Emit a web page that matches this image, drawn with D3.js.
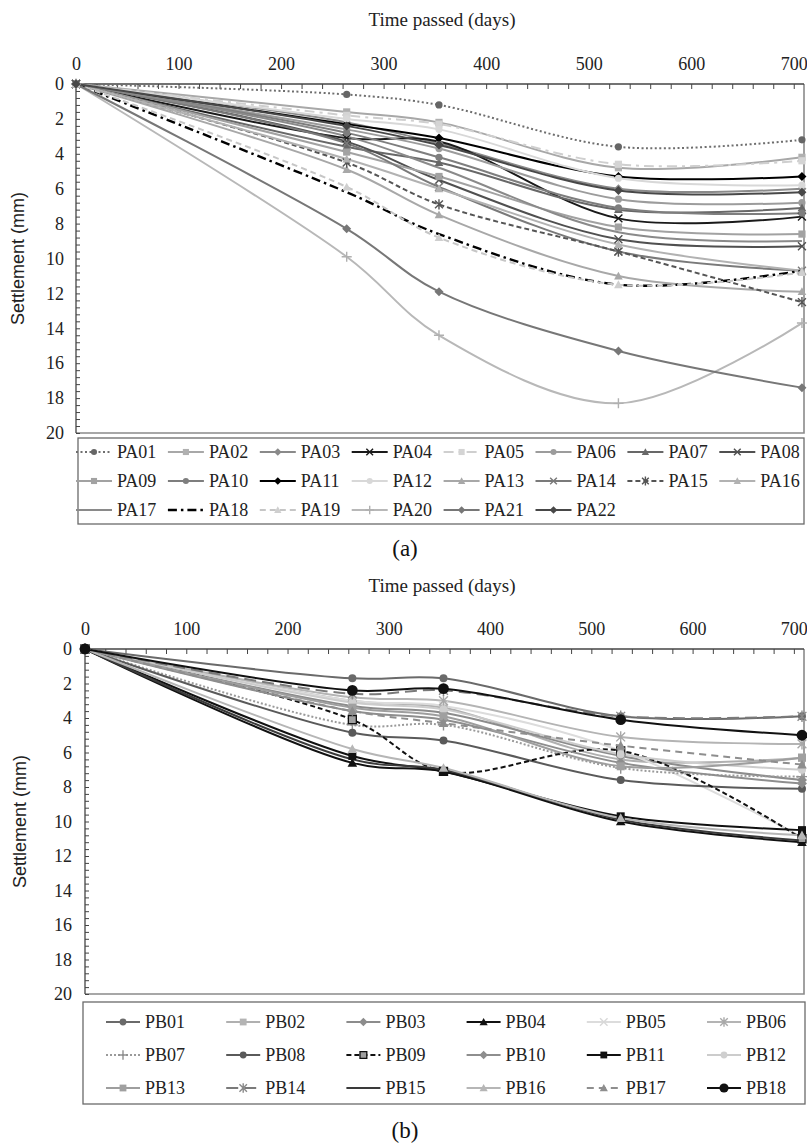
<!DOCTYPE html>
<html><head><meta charset="utf-8">
<script src="https://cdn.jsdelivr.net/npm/d3@7"></script>
<style>
html,body{margin:0;padding:0;background:#fff;}
svg{display:block;}
</style></head>
<body>
<svg id="chart" width="807" height="1147"></svg>
<script>
// ---------- DATA ----------
const days = [0, 264, 354, 529, 708];
const xTickLabels = [0, 100, 200, 300, 400, 500, 600, 700];
const yTickLabels = [0, 2, 4, 6, 8, 10, 12, 14, 16, 18, 20];

const paNames = ["PA01","PA02","PA03","PA04","PA05","PA06","PA07","PA08","PA09","PA10","PA11",
                 "PA12","PA13","PA14","PA15","PA16","PA17","PA18","PA19","PA20","PA21","PA22"];
const paValues = [
  [0, 0.6, 1.2, 3.6, 3.2],
  [0, 1.6, 2.2, 4.8, 4.2],
  [0, 2.2, 3.4, 6.0, 6.0],
  [0, 3.1, 3.3, 7.7, 7.6],
  [0, 1.8, 2.3, 4.6, 4.4],
  [0, 2.6, 3.7, 6.6, 6.8],
  [0, 3.6, 4.5, 7.2, 7.1],
  [0, 3.3, 5.5, 8.9, 9.3],
  [0, 3.9, 5.3, 8.2, 8.6],
  [0, 2.8, 4.2, 7.1, 7.4],
  [0, 2.3, 3.1, 5.3, 5.3],
  [0, 2.0, 2.6, 5.4, 5.8],
  [0, 4.9, 7.5, 11.0, 11.9],
  [0, 3.4, 5.9, 9.6, 10.7],
  [0, 4.5, 6.9, 9.6, 12.5],
  [0, 4.3, 6.0, 9.2, 10.7],
  [0, 3.0, 4.8, 8.5, 9.0],
  [0, 6.2, 8.6, 11.5, 10.7],
  [0, 5.9, 8.8, 11.5, 10.8],
  [0, 9.9, 14.4, 18.3, 13.7],
  [0, 8.3, 11.9, 15.3, 17.4],
  [0, 2.4, 3.5, 6.1, 6.2]
];

const pbNames = ["PB01","PB02","PB03","PB04","PB05","PB06","PB07","PB08","PB09",
                 "PB10","PB11","PB12","PB13","PB14","PB15","PB16","PB17","PB18"];
const pbValues = [
  [0, 1.7, 1.7, 3.9, 3.9],
  [0, 3.0, 3.4, 6.4, 6.3],
  [0, 3.3, 3.7, 6.2, 7.6],
  [0, 6.6, 7.1, 10.0, 11.2],
  [0, 3.0, 3.3, 5.9, 10.9],
  [0, 2.8, 3.0, 5.1, 5.5],
  [0, 4.4, 4.4, 6.9, 7.4],
  [0, 4.85, 5.3, 7.6, 8.1],
  [0, 4.1, 7.1, 5.9, 11.0],
  [0, 3.6, 4.1, 6.6, 7.8],
  [0, 6.2, 7.1, 9.7, 10.5],
  [0, 3.1, 3.5, 6.1, 7.0],
  [0, 3.4, 3.9, 6.8, 6.3],
  [0, 2.6, 2.4, 3.9, 3.9],
  [0, 6.4, 7.0, 9.9, 11.1],
  [0, 5.8, 6.9, 9.8, 10.8],
  [0, 3.6, 4.3, 5.6, 6.7],
  [0, 2.4, 2.3, 4.1, 5.0]
];

// ---------- STYLES ----------
const paStyles = [
  {c:"#6e6e6e", d:"2,2.5", m:"circle", mc:"#666"},
  {c:"#a8a8a8", d:null, m:"square", mc:"#b0b0b0"},
  {c:"#8a8a8a", d:null, m:"diamond", mc:"#8a8a8a"},
  {c:"#1a1a1a", d:null, m:"x", mc:"#1a1a1a"},
  {c:"#cfcfcf", d:"10,5,3,5", m:"square", mc:"#d4d4d4"},
  {c:"#9c9c9c", d:null, m:"circle", mc:"#9c9c9c"},
  {c:"#686868", d:null, m:"triangle", mc:"#686868"},
  {c:"#505050", d:null, m:"x", mc:"#505050"},
  {c:"#a2a2a2", d:null, m:"square", mc:"#a2a2a2"},
  {c:"#7e7e7e", d:null, m:"circle", mc:"#7e7e7e"},
  {c:"#000000", d:null, m:"diamond", mc:"#000"},
  {c:"#d8d8d8", d:null, m:"circle", mc:"#d8d8d8"},
  {c:"#a8a8a8", d:null, m:"triangle", mc:"#a8a8a8"},
  {c:"#7a7a7a", d:null, m:"x", mc:"#7a7a7a"},
  {c:"#555555", d:"5,3", m:"star", mc:"#555"},
  {c:"#b2b2b2", d:null, m:"triangle", mc:"#b2b2b2"},
  {c:"#8a8a8a", d:null, m:null, mc:null},
  {c:"#000000", d:"9,4,2.5,4", m:null, mc:null, w:2.4},
  {c:"#c6c6c6", d:"6,4", m:"triangle", mc:"#cfcfcf"},
  {c:"#b8b8b8", d:null, m:"plus", mc:"#b0b0b0"},
  {c:"#777777", d:null, m:"diamond", mc:"#777"},
  {c:"#484848", d:null, m:"diamond", mc:"#484848"}
];

const pbStyles = [
  {c:"#6a6a6a", d:null, m:"circle", mc:"#6a6a6a"},
  {c:"#b0b0b0", d:null, m:"square", mc:"#b4b4b4"},
  {c:"#8c8c8c", d:null, m:"diamond", mc:"#8c8c8c"},
  {c:"#111111", d:null, m:"triangle", mc:"#111"},
  {c:"#dcdcdc", d:null, m:"x", mc:"#d8d8d8"},
  {c:"#b4b4b4", d:null, m:"star", mc:"#a8a8a8"},
  {c:"#9a9a9a", d:"2,2", m:"plus", mc:"#909090"},
  {c:"#5a5a5a", d:null, m:"circle", mc:"#5a5a5a"},
  {c:"#111111", d:"5,3", m:"squareOutline", mc:"#a0a0a0"},
  {c:"#8e8e8e", d:null, m:"diamond", mc:"#8e8e8e"},
  {c:"#111111", d:null, m:"square", mc:"#111"},
  {c:"#cccccc", d:null, m:"circle", mc:"#cfcfcf"},
  {c:"#9e9e9e", d:null, m:"square", mc:"#a0a0a0"},
  {c:"#7a7a7a", d:"12,6", m:"star", mc:"#8a8a8a"},
  {c:"#3a3a3a", d:null, m:null, mc:null},
  {c:"#b6b6b6", d:null, m:"triangle", mc:"#b6b6b6"},
  {c:"#8e8e8e", d:"7,5", m:"triangle", mc:"#8e8e8e"},
  {c:"#111111", d:null, m:"circle", mc:"#111", ms:1.35}
];

// ---------- HELPERS ----------
function markerPath(type, s) {
  switch (type) {
    case "circle": return d3.symbol(d3.symbolCircle, Math.PI*s*s)();
    case "square": case "squareOutline": return `M${-s},${-s}H${s}V${s}H${-s}Z`;
    case "diamond": { const t = s*1.25; return `M0,${-t}L${t},0L0,${t}L${-t},0Z`; }
    case "triangle": { const t = s*1.2; return `M0,${-t}L${t},${t*0.8}L${-t},${t*0.8}Z`; }
    case "x": { const t = s*1.1; return `M${-t},${-t}L${t},${t}M${-t},${t}L${t},${-t}`; }
    case "plus": { const t = s*1.4; return `M${-t},0H${t}M0,${-t}V${t}`; }
    case "star": { const t = s*1.1; return `M${-t},${-t}L${t},${t}M${-t},${t}L${t},${-t}M0,${-t*1.3}V${t*1.3}`; }
  }
  return "";
}
function drawMarker(g, st, x, y, s) {
  if (!st.m) return;
  const size = s * (st.ms || 1);
  const p = g.append("path").attr("d", markerPath(st.m, size))
    .attr("transform", `translate(${x},${y})`);
  if (st.m === "x" || st.m === "plus" || st.m === "star") {
    p.attr("fill", "none").attr("stroke", st.mc).attr("stroke-width", 1.4);
  } else if (st.m === "squareOutline") {
    p.attr("fill", st.mc).attr("stroke", "#111").attr("stroke-width", 1.3);
  } else {
    p.attr("fill", st.mc).attr("stroke", "none");
  }
}

const svg = d3.select("#chart");
const serif = "'Liberation Serif','Times New Roman',serif";
const sans = "'Liberation Sans',Arial,sans-serif";

function drawPanel(cfg) {
  const g = svg.append("g");
  const x = d3.scaleLinear().domain([0, 710]).range([cfg.left, cfg.right]);
  const y = d3.scaleLinear().domain([0, 20]).range([cfg.top, cfg.bottom]);

  g.append("text").attr("x", cfg.titleX).attr("y", cfg.titleY)
    .attr("text-anchor", "middle").attr("font-family", serif).attr("font-size", 19)
    .attr("fill", "#222").text("Time passed (days)");

  g.append("path")
    .attr("d", `M${cfg.left},${cfg.bottom}H${cfg.right}V${cfg.top}`)
    .attr("fill", "none").attr("stroke", "#8a8a8a").attr("stroke-width", 1.6);

  const xAxis = d3.axisTop(x)
    .tickValues(d3.range(0, 701, 20))
    .tickSizeInner(-5).tickSizeOuter(0).tickPadding(14)
    .tickFormat(d => xTickLabels.includes(d) ? d : "");
  const gx = g.append("g").attr("transform", `translate(0,${cfg.top})`).call(xAxis);
  gx.select(".domain").attr("d", `M${cfg.left},0H${cfg.right}`).attr("stroke", "#444").attr("stroke-width", 1.3);
  gx.selectAll(".tick line").attr("stroke", "#444");
  gx.selectAll(".tick text").attr("font-family", serif).attr("font-size", 18).attr("fill", "#222");

  const yTicks = d3.range(0, 51).map(i => i * 0.4);
  const isLabel = v => yTickLabels.some(t => Math.abs(t - v) < 1e-6);
  const yAxis = d3.axisLeft(y)
    .tickValues(yTicks)
    .tickSizeInner(-4).tickSizeOuter(0).tickPadding(cfg.yPad)
    .tickFormat(v => isLabel(v) ? Math.round(v) : "");
  const gy = g.append("g").attr("transform", `translate(${cfg.left},0)`).call(yAxis);
  gy.select(".domain").attr("d", `M0,${cfg.top}V${cfg.bottom}`).attr("stroke", "#444").attr("stroke-width", 1.3);
  gy.selectAll(".tick line").attr("stroke", "#444");
  gy.selectAll(".tick text").attr("font-family", serif).attr("font-size", 18).attr("fill", "#222");

  g.append("text")
    .attr("transform", `translate(${cfg.yTitleX},${(cfg.top + cfg.bottom) / 2}) rotate(-90)`)
    .attr("text-anchor", "middle").attr("font-family", sans).attr("font-size", 18)
    .attr("fill", "#222").text("Settlement (mm)");

  const line = d3.line().x((d, i) => x(days[i])).y(d => y(d)).curve(d3.curveCatmullRom.alpha(0.5));
  const lg = g.append("g");
  cfg.values.forEach((vals, k) => {
    const st = cfg.styles[k];
    lg.append("path").attr("d", line(vals)).attr("fill", "none")
      .attr("stroke", st.c).attr("stroke-width", st.w || 2)
      .attr("stroke-dasharray", st.d);
  });
  const mg = g.append("g");
  cfg.values.forEach((vals, k) => {
    const st = cfg.styles[k];
    vals.forEach((v, i) => drawMarker(mg, st, x(days[i]), y(v), cfg.ms));
  });

  const L = cfg.legend;
  g.append("rect").attr("x", L.x).attr("y", L.y).attr("width", L.w).attr("height", L.h)
    .attr("fill", "#fff").attr("stroke", "#6a6a6a").attr("stroke-width", 1.3);
  cfg.names.forEach((name, k) => {
    const st = cfg.styles[k];
    const col = k % L.cols, row = Math.floor(k / L.cols);
    const tx = L.tx0 + col * L.dx;
    const ty = L.ty0 + row * L.dy;
    g.append("line").attr("x1", tx - L.sym - 5).attr("x2", tx - 5).attr("y1", ty).attr("y2", ty)
      .attr("stroke", st.c).attr("stroke-width", st.w || 2).attr("stroke-dasharray", st.d);
    drawMarker(g, st, tx - 5 - L.sym / 2, ty, cfg.ms * 0.85);
    g.append("text").attr("x", tx).attr("y", ty + 6).attr("font-family", serif)
      .attr("font-size", 18).attr("fill", "#222").text(name);
  });

  g.append("text").attr("x", cfg.labX).attr("y", cfg.labY).attr("text-anchor", "middle")
    .attr("font-family", serif).attr("font-size", 23).attr("fill", "#111").text(cfg.label);
}

drawPanel({
  left: 76, right: 804, top: 84, bottom: 433, yPad: 12, yTitleX: 24,
  titleX: 442, titleY: 26,
  values: paValues, styles: paStyles, names: paNames, ms: 3.6,
  legend: {x: 78, y: 438, w: 726, h: 86, cols: 8, tx0: 117, dx: 91.9, ty0: 452, dy: 29, sym: 36},
  label: "(a)", labX: 405, labY: 556
});

drawPanel({
  left: 85, right: 804, top: 649, bottom: 994, yPad: 13, yTitleX: 26,
  titleX: 442, titleY: 592,
  values: pbValues, styles: pbStyles, names: pbNames, ms: 4,
  legend: {x: 83, y: 1002, w: 722, h: 102, cols: 6, tx0: 145, dx: 120.2, ty0: 1022, dy: 33, sym: 34},
  label: "(b)", labX: 405, labY: 1138
});
</script>
</body></html>
